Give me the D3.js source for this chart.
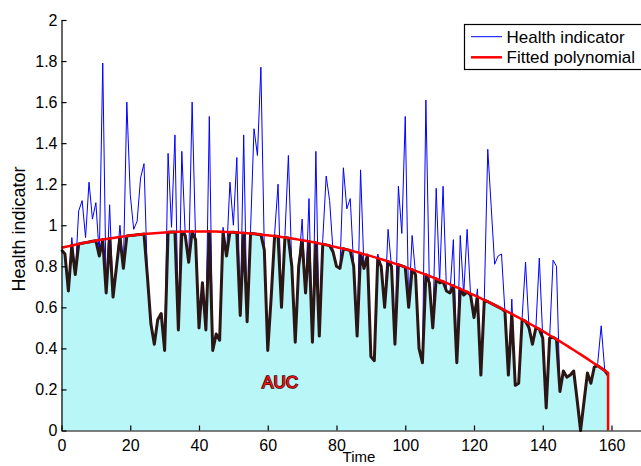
<!DOCTYPE html>
<html>
<head>
<meta charset="utf-8">
<script src="https://cdn.jsdelivr.net/npm/d3@7"></script>
<style>
  html, body { margin: 0; padding: 0; background: #fff; overflow: hidden; }
  text { font-family: Arial, "Liberation Sans", Helvetica, sans-serif; }
</style>
</head>
<body>
<svg id="chart" width="641" height="466"></svg>
<script>
// Health indicator sampled once per time step (t = 0 … 159)
const healthIndicator = [
  0.88, 0.86, 0.68, 0.94, 0.76, 1.07, 1.12, 0.94, 1.21, 1.03,
  1.11, 0.85, 1.79, 0.67, 1.10, 0.65, 0.80, 1.00, 0.79, 1.60,
  1.15, 0.98, 1.02, 1.23, 1.30, 0.75, 0.52, 0.42, 0.54, 0.57,
  0.39, 1.35, 0.99, 1.44, 0.49, 1.36, 0.95, 0.82, 1.60, 0.93,
  0.50, 0.72, 0.49, 1.53, 0.39, 0.47, 0.44, 0.99, 0.85, 1.21,
  1.00, 1.33, 0.56, 1.44, 0.53, 0.98, 1.47, 1.34, 1.77, 0.88,
  0.39, 0.65, 0.96, 1.20, 0.60, 0.95, 1.34, 0.80, 0.43, 0.80,
  1.03, 0.67, 1.13, 0.43, 1.36, 0.46, 0.93, 1.24, 1.12, 0.87,
  0.80, 0.79, 1.28, 1.08, 1.13, 0.80, 0.46, 1.27, 0.79, 0.86,
  0.36, 0.34, 0.86, 0.80, 0.60, 0.98, 0.80, 0.42, 1.19, 0.96,
  1.53, 0.60, 0.95, 0.76, 0.40, 0.33, 1.61, 0.72, 0.50, 1.18,
  0.72, 1.19, 0.68, 0.67, 0.93, 0.33, 0.95, 0.66, 0.98, 0.66,
  0.55, 0.69, 0.27, 0.64, 1.37, 1.09, 0.81, 0.85, 0.86, 0.58,
  0.27, 0.64, 0.22, 0.23, 0.55, 0.82, 0.50, 0.42, 0.50, 0.84,
  0.45, 0.11, 0.45, 0.83, 0.80, 0.19, 0.29, 0.26, 0.27, 0.29,
  0.15, 0.00, 0.14, 0.28, 0.23, 0.31, 0.33, 0.51, 0.30, 0.27
];

// Quadratic fitted to the health indicator: c0 + c1*t + c2*t^2
const fitCoefficients = [0.890, 0.00396, -0.000049];

const xTicks = [0, 20, 40, 60, 80, 100, 120, 140, 160];
const yTicks = [0, 0.2, 0.4, 0.6, 0.8, 1, 1.2, 1.4, 1.6, 1.8, 2];
const seriesNames = ["Health indicator", "Fitted polynomial"];
const areaLabel = "AUC";
const xLabel = "Time";
const yLabel = "Health indicator";

const colors = { hi: "#0000ff", fit: "#ff0000", under: "#2b1616", fill: "#b9f6f8" };

const svg = d3.select("#chart");

const x = d3.scaleLinear().domain([0, 170]).range([61.5, 61.5 + 170 * 3.4375]);
const y = d3.scaleLinear().domain([0, 2]).range([430.5, 20]);

const time = healthIndicator.map((_, i) => i);
const fitted = time.map(t => fitCoefficients[0] + fitCoefficients[1] * t + fitCoefficients[2] * t * t);
const lower = time.map((t, i) => Math.min(healthIndicator[i], fitted[i]));

// Area under the curve bounded by the fitted polynomial
const area = d3.area()
  .x((d, i) => x(time[i]))
  .y0(y(0))
  .y1(d => y(d));
svg.append("path")
  .datum(lower)
  .attr("d", area)
  .attr("fill", colors.fill);

const line = d3.line().x((d, i) => x(time[i])).y(d => y(d));

svg.append("path")
  .datum(healthIndicator)
  .attr("d", line)
  .attr("fill", "none")
  .attr("stroke", colors.hi)
  .attr("stroke-width", 1)
  .attr("stroke-linejoin", "miter");

svg.append("path")
  .datum(lower)
  .attr("d", line)
  .attr("fill", "none")
  .attr("stroke", colors.under)
  .attr("stroke-width", 3)
  .attr("stroke-linejoin", "round");

// Fitted polynomial, closed down to the time axis at the last sample
const lastT = time[time.length - 1];
const fitPts = time.map((t, i) => [x(t), y(fitted[i])]);
fitPts.push([x(lastT), y(0)]);
svg.append("path")
  .attr("d", d3.line()(fitPts))
  .attr("fill", "none")
  .attr("stroke", colors.fit)
  .attr("stroke-width", 2.5)
  .attr("stroke-linejoin", "round");

// Axes with inward ticks
const xAxis = svg.append("g")
  .attr("transform", `translate(0,${y(0)})`)
  .call(d3.axisBottom(x).tickValues(xTicks).tickSizeInner(-5).tickSizeOuter(0).tickPadding(9.5));
const yAxis = svg.append("g")
  .attr("transform", `translate(${x(0)},0)`)
  .call(d3.axisLeft(y).tickValues(yTicks).tickFormat(d3.format("~g")).tickSizeInner(-5).tickSizeOuter(0).tickPadding(4));

[xAxis, yAxis].forEach(g => {
  g.select(".domain").attr("stroke", "#000").attr("stroke-width", 1.2);
  g.selectAll(".tick line").attr("stroke", "#000").attr("stroke-width", 1.2);
  g.selectAll(".tick text").attr("fill", "#000").attr("font-size", 16)
    .attr("font-family", "Arial, 'Liberation Sans', sans-serif");
});

svg.append("text")
  .attr("x", 359).attr("y", 462)
  .attr("text-anchor", "middle")
  .attr("font-size", 15)
  .text(xLabel);

svg.append("text")
  .attr("transform", "translate(25,229) rotate(-90)")
  .attr("text-anchor", "middle")
  .attr("font-size", 18)
  .text(yLabel);

svg.append("text")
  .attr("x", 280).attr("y", 388)
  .attr("text-anchor", "middle")
  .attr("font-size", 17)
  .attr("fill", "#ff1010")
  .attr("stroke", "#3a0a0a")
  .attr("stroke-width", 1.6)
  .attr("paint-order", "stroke")
  .text(areaLabel);

// Legend
const legend = svg.append("g");
legend.append("rect")
  .attr("x", 464.5).attr("y", 24.5)
  .attr("width", 200).attr("height", 45)
  .attr("fill", "#fff")
  .attr("stroke", "#000")
  .attr("stroke-width", 1.2);
const legendColors = [colors.hi, colors.fit];
const legendWidths = [1, 2.5];
seriesNames.forEach((name, i) => {
  const cy = 36.7 + i * 20.6;
  legend.append("line")
    .attr("x1", 471).attr("x2", 502)
    .attr("y1", cy).attr("y2", cy)
    .attr("stroke", legendColors[i])
    .attr("stroke-width", legendWidths[i]);
  legend.append("text")
    .attr("x", 506.5).attr("y", cy + 6)
    .attr("font-size", 17)
    .attr("fill", "#000")
    .text(name);
});
</script>
</body>
</html>
